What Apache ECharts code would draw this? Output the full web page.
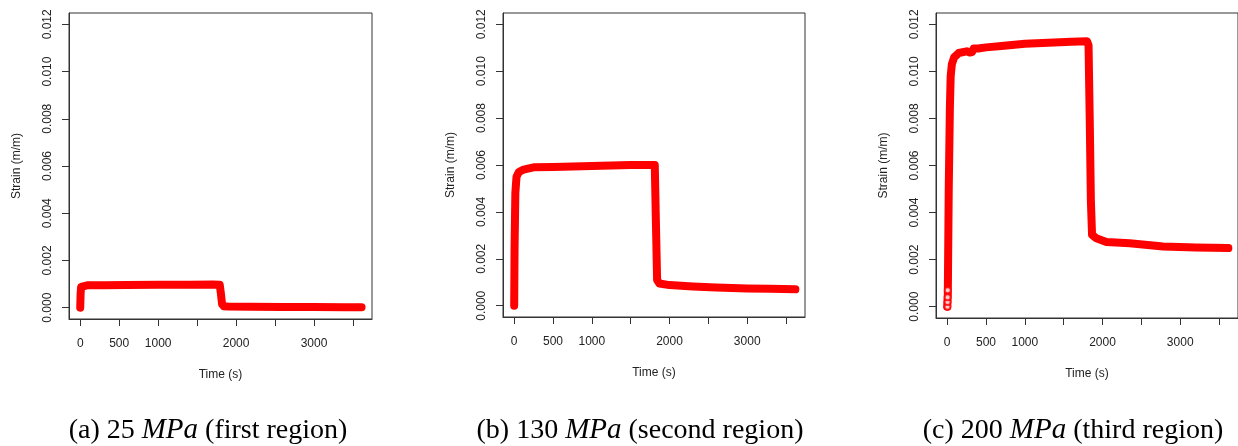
<!DOCTYPE html>
<html>
<head>
    <meta charset="UTF-8">
    <title>Strain vs Time</title>
    <style>
        body {
            margin: 0;
            background-color: #ffffff;
        }
        #chart {
            width: 1238px;
            height: 446px;
        }
    </style>
</head>
<body>
    <div id="chart"></div>

    <script src="https://cdn.jsdelivr.net/npm/echarts@6.0.0/dist/echarts.min.js"></script>
    <script>
        // (a) 25 MPa
        const time1 = [0, 5, 12, 30, 100, 300, 600, 1000, 1400, 1700, 1790, 1805, 1820, 1840, 1900, 2200, 2600, 3000, 3400, 3610];
        const strain1 = [0, 0.0006, 0.00088, 0.00095, 0.00095, 0.00095, 0.00096, 0.00097, 0.00097, 0.00098, 0.00097, 0.0006, 0.00015, 0.00006, 0.00005, 0.00004, 0.00003, 0.00003, 0.00002, 0.00002];

        // (b) 130 MPa
        const time2 = [0, 5, 15, 30, 60, 120, 250, 500, 1000, 1500, 1810, 1825, 1840, 1870, 2000, 2300, 2600, 3000, 3300, 3620];
        const strain2 = [0, 0.0025, 0.0048, 0.0055, 0.0057, 0.0058, 0.0059, 0.00592, 0.00596, 0.006, 0.006, 0.0035, 0.0011, 0.00095, 0.00088, 0.00082, 0.00078, 0.00074, 0.00072, 0.0007];

        // (c) 200 MPa
        const time3 = [0, 8, 12, 20, 35, 45, 60, 90, 150, 250, 290, 320, 340, 400, 500, 700, 1000, 1300, 1600, 1800, 1820, 1835, 1850, 1865, 1920, 2050, 2350, 2780, 3200, 3620];
        const strain3 = [0, 0.0005, 0.002, 0.005, 0.0085, 0.0098, 0.0103, 0.0106, 0.01078, 0.01085, 0.0108, 0.01082, 0.01097, 0.01097, 0.01102, 0.01108, 0.01117, 0.01122, 0.01126, 0.01128, 0.0111, 0.008, 0.0045, 0.00305, 0.00291, 0.00275, 0.0027, 0.00256, 0.00252, 0.00249];

        // loose points at the very start of (c)
        const startTime3 = [4, 5, 6, 7];
        const startStrain3 = [0, 0.0002, 0.0004, 0.0007];

        // axes
        const xTicks = [0, 500, 1000, 1500, 2000, 2500, 3000, 3500];
        const xTickLabels = [0, 500, 1000, 2000, 3000];
        const yTicks = [0, 0.002, 0.004, 0.006, 0.008, 0.010, 0.012];
        const captions = [
            '(a) 25 {i|MPa} (first region)',
            '(b) 130 {i|MPa} (second region)',
            '(c) 200 {i|MPa} (third region)'
        ];

        const panels = [
            { time: time1, strain: strain1, left: 69, top: 13, width: 303, height: 306, cx: 203 },
            { time: time2, strain: strain2, left: 503, top: 13, width: 302, height: 304, cx: 635 },
            { time: time3, strain: strain3, left: 936, top: 13, width: 303, height: 305, cx: 1068 }
        ];

        const axisFont = { fontFamily: 'Liberation Sans', fontSize: 12, color: '#222' };
        const zip = (xs, ys) => xs.map((x, i) => [x, ys[i]]);

        const option = {
            animation: false,
            title: panels.map((p, i) => ({
                text: captions[i],
                left: p.cx,
                top: 411,
                textAlign: 'center',
                textStyle: {
                    fontFamily: 'Liberation Serif',
                    fontSize: 28,
                    fontWeight: 'normal',
                    color: '#000',
                    rich: {
                        i: { fontFamily: 'Liberation Serif', fontStyle: 'italic', fontSize: 29, color: '#000' }
                    }
                }
            })),
            grid: panels.map(p => ({
                left: p.left, top: p.top, width: p.width, height: p.height,
                show: true, borderColor: '#333', borderWidth: 1, backgroundColor: '#fff'
            })),
            xAxis: panels.map((p, i) => ({
                type: 'value',
                gridIndex: i,
                position: 'bottom',
                min: -144,
                max: 3744,
                name: 'Time (s)',
                nameLocation: 'middle',
                nameGap: 50,
                nameTextStyle: axisFont,
                axisLine: { show: true, onZero: false, lineStyle: { color: '#333', width: 1 } },
                axisTick: { show: true, inside: false, length: 7, customValues: xTicks, lineStyle: { color: '#333' } },
                axisLabel: { customValues: xTickLabels, margin: 19, formatter: v => String(v), ...axisFont },
                splitLine: { show: false }
            })),
            yAxis: panels.map((p, i) => ({
                type: 'value',
                gridIndex: i,
                position: 'left',
                min: -0.00048,
                max: 0.01248,
                name: 'Strain (m/m)',
                nameLocation: 'middle',
                nameRotate: 90,
                nameGap: 46,
                nameTextStyle: axisFont,
                axisLine: { show: true, onZero: false, lineStyle: { color: '#333', width: 1 } },
                axisTick: { show: true, inside: false, length: 7, customValues: yTicks, lineStyle: { color: '#333' } },
                axisLabel: {
                    customValues: yTicks,
                    rotate: 90,
                    margin: 15,
                    formatter: v => v.toFixed(3),
                    ...axisFont
                },
                splitLine: { show: false }
            })),
            series: panels.map((p, i) => ({
                type: 'line',
                xAxisIndex: i,
                yAxisIndex: i,
                data: zip(p.time, p.strain),
                showSymbol: false,
                lineStyle: { color: '#ff0000', width: 8, cap: 'round', join: 'round' }
            })).concat([{
                type: 'scatter',
                xAxisIndex: 2,
                yAxisIndex: 2,
                data: zip(startTime3, startStrain3),
                symbol: 'emptyCircle',
                symbolSize: 6,
                itemStyle: { color: '#ff0000', borderColor: '#ff0000', borderWidth: 1.5 },
                z: 3
            }])
        };

        const chart = echarts.init(document.getElementById('chart'));
        chart.setOption(option);
    </script>
</body>
</html>
